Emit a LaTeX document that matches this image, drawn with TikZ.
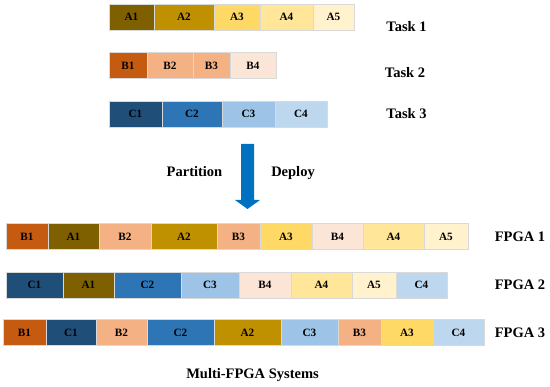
\documentclass[tikz,border=0pt]{standalone}
\usepackage{fontspec}
\setmainfont{Liberation Serif}
\usetikzlibrary{arrows.meta}

\definecolor{ca1}{HTML}{7F6000}
\definecolor{ca2}{HTML}{BF9000}
\definecolor{ca3}{HTML}{FFD966}
\definecolor{ca4}{HTML}{FFE699}
\definecolor{ca5}{HTML}{FFF2CC}
\definecolor{cb1}{HTML}{C55A11}
\definecolor{cb2}{HTML}{F4B183}
\definecolor{cb3}{HTML}{F4B183}
\definecolor{cb4}{HTML}{FBE5D6}
\definecolor{cc1}{HTML}{1F4E79}
\definecolor{cc2}{HTML}{2E75B6}
\definecolor{cc3}{HTML}{9DC3E6}
\definecolor{cc4}{HTML}{BDD7EE}
\definecolor{arrowblue}{HTML}{0070C0}

\begin{document}
\begin{tikzpicture}[x=1pt,y=-1pt]

\useasboundingbox (0,0) rectangle (550,387);

\tikzstyle{cell}=[draw=gray!30,line width=0.8pt,minimum height=26pt,inner sep=0pt,outer sep=0pt,anchor=center,text depth=0pt,font=\bfseries\fontsize{11.2}{11.2}\selectfont];
\tikzstyle{tag}=[inner sep=0pt,text depth=0pt,font=\bfseries\fontsize{14.5}{14.5}\selectfont];

% Task 1
\node[cell,fill=ca1,minimum width=45pt] (t1a1) at (131.5,17) {A1};
\node[cell,fill=ca2,minimum width=60pt] (t1a2) at (184,17) {A2};
\node[cell,fill=ca3,minimum width=46pt] (t1a3) at (237,17) {A3};
\node[cell,fill=ca4,minimum width=53pt] (t1a4) at (286.5,17) {A4};
\node[cell,fill=ca5,minimum width=41pt] (t1a5) at (333.5,17) {A5};

% Task 2
\node[cell,fill=cb1,minimum width=38pt] (t2b1) at (128,65.5) {B1};
\node[cell,fill=cb2,minimum width=46pt] (t2b2) at (170,65.5) {B2};
\node[cell,fill=cb3,minimum width=37pt] (t2b3) at (211.5,65.5) {B3};
\node[cell,fill=cb4,minimum width=46pt] (t2b4) at (253,65.5) {B4};

% Task 3
\node[cell,fill=cc1,minimum width=53pt] (t3c1) at (135.5,114) {C1};
\node[cell,fill=cc2,minimum width=60pt] (t3c2) at (192,114) {C2};
\node[cell,fill=cc3,minimum width=53pt] (t3c3) at (248.5,114) {C3};
\node[cell,fill=cc4,minimum width=52pt] (t3c4) at (301,114) {C4};

% Task labels
\node[tag] (task1) at (406.5,26) {Task 1};
\node[tag] (task2) at (405,72) {Task 2};
\node[tag] (task3) at (406.5,113) {Task 3};

% Partition / deploy arrow
\fill[arrowblue] (241,144) -- (254,144) -- (254,200) -- (260,200) -- (247.5,209)
  -- (235,200) -- (241,200) -- cycle;
\node[tag] (part) at (194.5,171) {Partition};
\node[tag] (depl) at (293,171) {Deploy};

% FPGA 1
\node[cell,fill=cb1,minimum width=42pt] (f1b1) at (27,236.5) {B1};
\node[cell,fill=ca1,minimum width=51pt] (f1a1) at (73.5,236.5) {A1};
\node[cell,fill=cb2,minimum width=52pt] (f1b2) at (125,236.5) {B2};
\node[cell,fill=ca2,minimum width=66pt] (f1a2) at (184,236.5) {A2};
\node[cell,fill=cb3,minimum width=43pt] (f1b3) at (238.5,236.5) {B3};
\node[cell,fill=ca3,minimum width=52pt] (f1a3) at (286,236.5) {A3};
\node[cell,fill=cb4,minimum width=51pt] (f1b4) at (337.5,236.5) {B4};
\node[cell,fill=ca4,minimum width=61pt] (f1a4) at (393.5,236.5) {A4};
\node[cell,fill=ca5,minimum width=44pt] (f1a5) at (446,236.5) {A5};

% FPGA 2
\node[cell,fill=cc1,minimum width=57pt] (f2c1) at (34.5,285) {C1};
\node[cell,fill=ca1,minimum width=51pt] (f2a1) at (88.5,285) {A1};
\node[cell,fill=cc2,minimum width=67pt] (f2c2) at (147.5,285) {C2};
\node[cell,fill=cc3,minimum width=58pt] (f2c3) at (210,285) {C3};
\node[cell,fill=cb4,minimum width=52pt] (f2b4) at (265,285) {B4};
\node[cell,fill=ca4,minimum width=61pt] (f2a4) at (321.5,285) {A4};
\node[cell,fill=ca5,minimum width=44pt] (f2a5) at (374,285) {A5};
\node[cell,fill=cc4,minimum width=51pt] (f2c4) at (421.5,285) {C4};

% FPGA 3
\node[cell,fill=cb1,minimum width=43pt] (f3b1) at (24.5,332.5) {B1};
\node[cell,fill=cc1,minimum width=50pt] (f3c1) at (71,332.5) {C1};
\node[cell,fill=cb2,minimum width=51pt] (f3b2) at (121.5,332.5) {B2};
\node[cell,fill=cc2,minimum width=67pt] (f3c2) at (180.5,332.5) {C2};
\node[cell,fill=ca2,minimum width=67pt] (f3a2) at (247.5,332.5) {A2};
\node[cell,fill=cc3,minimum width=57pt] (f3c3) at (309.5,332.5) {C3};
\node[cell,fill=cb3,minimum width=43pt] (f3b3) at (359.5,332.5) {B3};
\node[cell,fill=ca3,minimum width=52pt] (f3a3) at (407,332.5) {A3};
\node[cell,fill=cc4,minimum width=51pt] (f3c4) at (458.5,332.5) {C4};

% FPGA labels
\node[tag] (fpga1) at (520,237) {FPGA 1};
\node[tag] (fpga2) at (520,285) {FPGA 2};
\node[tag] (fpga3) at (520,332.5) {FPGA 3};

\node[tag] (multi) at (252.5,373) {Multi-FPGA Systems};

\end{tikzpicture}
\end{document}
